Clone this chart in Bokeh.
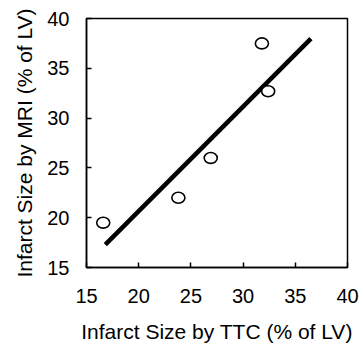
from bokeh.plotting import figure
from bokeh.models import FixedTicker, Range1d
from bokeh.embed import file_html
from bokeh.resources import INLINE

# Data
ttc = [16.6, 23.8, 26.9, 31.8, 32.4]
mri = [19.5, 22.0, 26.0, 37.5, 32.7]
fit_x = [16.8, 36.5]
slope = 1.05
intercept = -0.34
fit_y = [slope * v + intercept for v in fit_x]
ticks = [15, 20, 25, 30, 35, 40]

FONT = "Liberation Sans"

p = figure(width=359, height=345, output_backend="svg", toolbar_location=None,
           x_range=Range1d(15, 40), y_range=Range1d(15, 40),
           min_border_left=86, min_border_right=12, min_border_top=18, min_border_bottom=76)
p.background_fill_color = "white"
p.border_fill_color = "white"
p.outline_line_color = "black"
p.outline_line_width = 1.5
p.xgrid.visible = False
p.ygrid.visible = False

p.line(fit_x, fit_y, line_color="black", line_width=4.5)
p.ellipse(ttc, mri, width=1.25, height=1.1, fill_color="white", line_color="black", line_width=1.6)

for ax in (p.xaxis[0], p.yaxis[0]):
    ax.ticker = FixedTicker(ticks=ticks)
    ax.major_tick_in = 5
    ax.major_tick_out = 0
    ax.minor_tick_line_color = None
    ax.axis_line_color = "black"
    ax.axis_line_width = 1.5
    ax.major_tick_line_width = 1.5
    ax.major_label_text_font = FONT
    ax.major_label_text_font_size = "20px"
    ax.major_label_text_color = "black"
    ax.axis_label_text_font = FONT
    ax.axis_label_text_font_size = "21px"
    ax.axis_label_text_font_style = "normal"
    ax.axis_label_text_color = "black"

p.xaxis.axis_label = "Infarct Size by TTC (% of LV)"
p.yaxis.axis_label = "Infarct Size by MRI (% of LV)"
p.xaxis.major_label_standoff = 21
p.yaxis.major_label_standoff = 17
p.xaxis.axis_label_standoff = 14
p.yaxis.axis_label_standoff = 8

open("out.html", "w").write(file_html(p, INLINE))
